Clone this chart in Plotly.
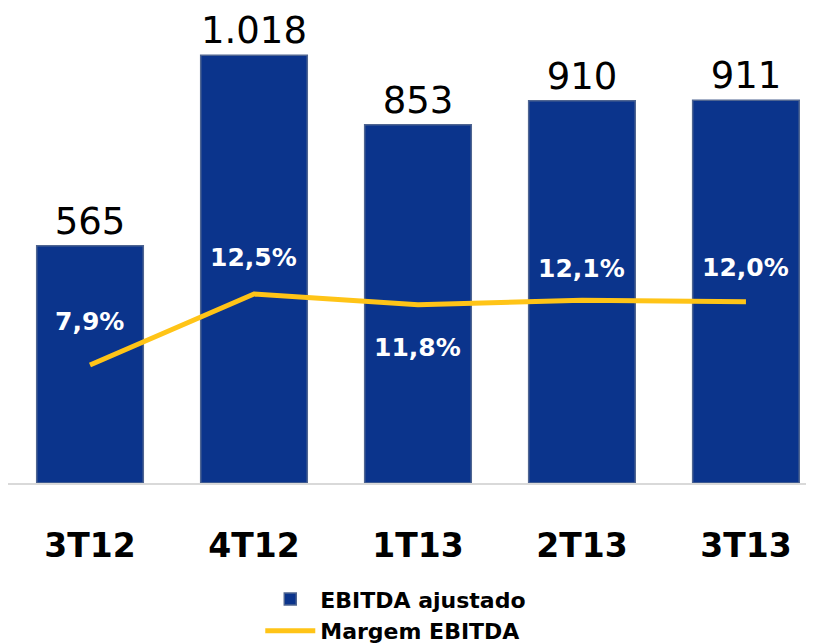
import plotly.graph_objects as go

categories = ["3T12", "4T12", "1T13", "2T13", "3T13"]
ebitda = [565, 1018, 853, 910, 911]
ebitda_labels = ["565", "1.018", "853", "910", "911"]
margem = [7.9, 12.5, 11.8, 12.1, 12.0]
margem_labels = ["7,9%", "12,5%", "11,8%", "12,1%", "12,0%"]
label_shift = [43, 36, -43, 32, 34]

fig = go.Figure()
fig.add_trace(go.Bar(
    x=categories, y=ebitda, name="EBITDA ajustado",
    marker=dict(color="#0b348c", line=dict(color="#4f6591", width=1.5)),
    text=ebitda_labels, textposition="outside",
    textfont=dict(family="DejaVu Sans", size=37, color="black"),
    cliponaxis=False, width=0.65,
))
fig.add_trace(go.Scatter(
    x=categories, y=margem, name="Margem EBITDA", yaxis="y2",
    mode="lines", line=dict(color="#FFC417", width=5),
))
for c, m, lab, s in zip(categories, margem, margem_labels, label_shift):
    fig.add_annotation(x=c, y=m, yref="y2", text=lab, showarrow=False,
                       yshift=s, font=dict(family="DejaVu Sans", size=25, color="white", weight="bold"))

fig.update_layout(
    width=806, height=635,
    margin=dict(l=0, r=0, t=2, b=160, autoexpand=False),
    plot_bgcolor="white", paper_bgcolor="white",
    showlegend=True,
    legend=dict(x=0.313, y=-0.2015, xanchor="left", yanchor="top",
                font=dict(family="DejaVu Sans", size=22, color="black", weight="bold"),
                tracegroupgap=0, itemwidth=50, bgcolor="rgba(0,0,0,0)"),
    xaxis=dict(range=[-0.5, 4.415], showline=True, linecolor="#d9d9d9", linewidth=2,
               tickfont=dict(family="DejaVu Sans", size=33, color="black", weight="bold"),
               ticks="", ticklabelstandoff=32, showgrid=False, automargin=False),
    yaxis=dict(range=[0, 1126], visible=False, showgrid=False, automargin=False),
    yaxis2=dict(range=[0.25, 30.9], overlaying="y", visible=False, showgrid=False, automargin=False),
    bargap=0.35,
)

fig.write_html("out.html")
